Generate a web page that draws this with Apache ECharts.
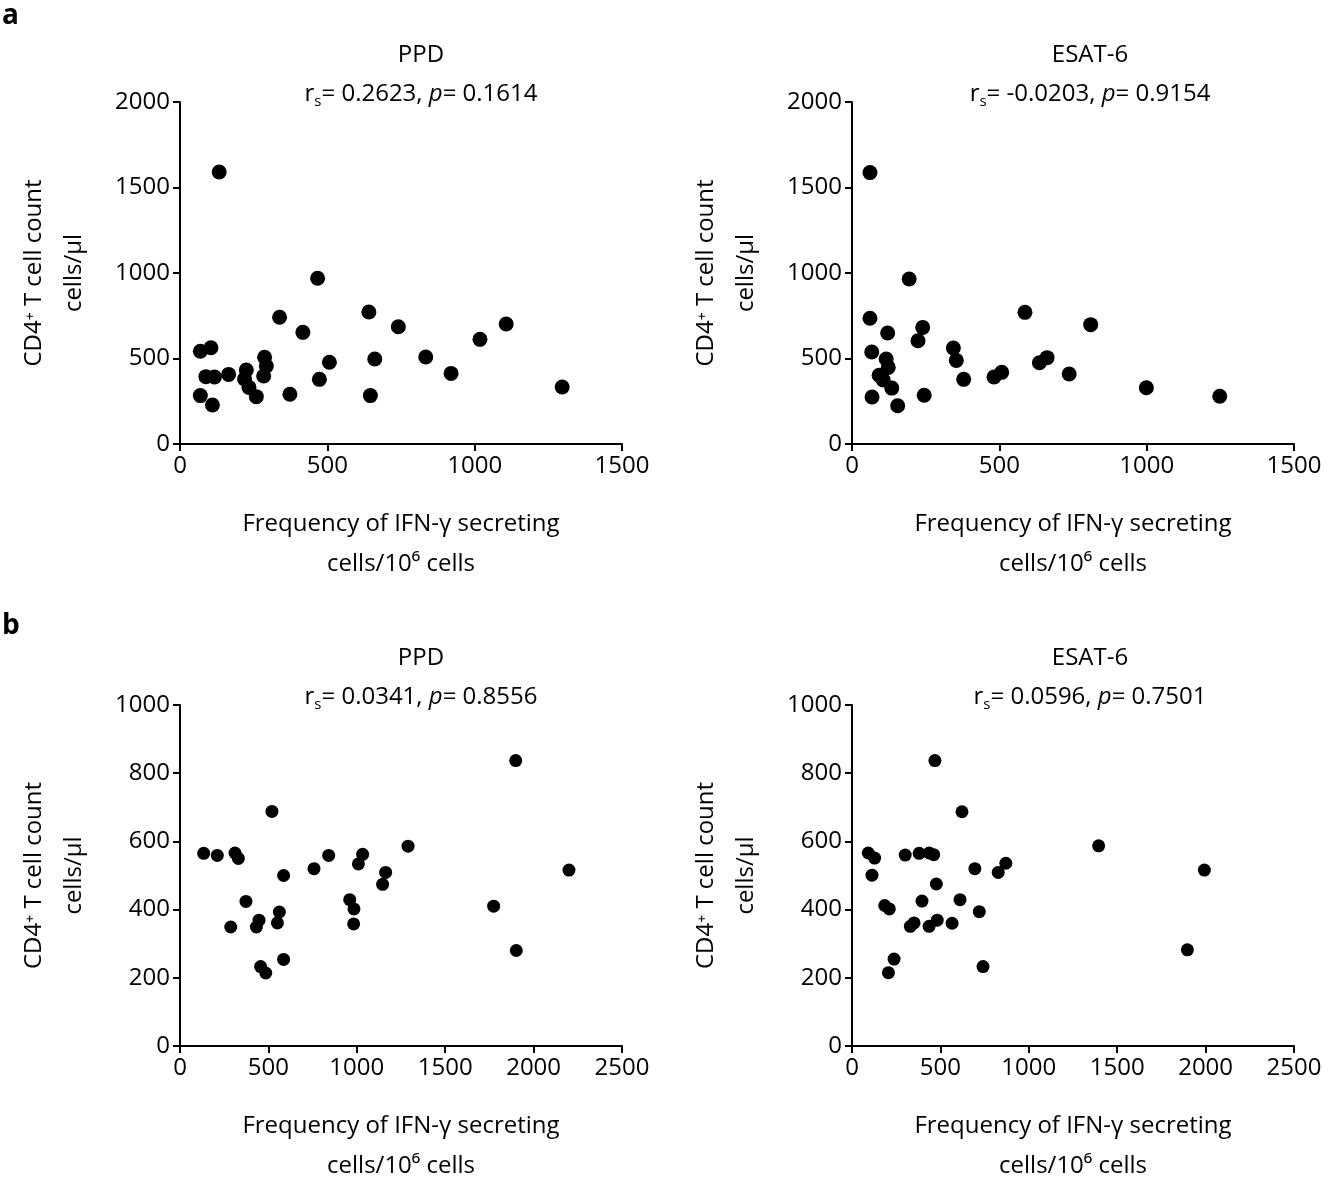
<!DOCTYPE html>
<html><head><meta charset="utf-8">
<script src="https://cdn.jsdelivr.net/npm/echarts@6/dist/echarts.min.js"></script>
<style>html,body{margin:0;padding:0;background:#fff}#c{width:1330px;height:1187px}</style>
</head><body><div id="c"></div>
<script>
const aPPD = [[133,1591],[467,969],[338,741],[417,653],[641,772],[741,686],[1107,702],[1018,612],[69,542],[105,563],[287,507],[293,456],[507,478],[661,497],[834,509],[920,413],[88,394],[117,392],[165,407],[225,433],[219,380],[234,331],[284,398],[473,378],[1297,333],[69,283],[110,228],[259,277],[373,291],[646,283]];
const aESAT = [[61,1587],[194,965],[61,735],[121,649],[240,682],[224,604],[587,770],[810,698],[67,538],[116,497],[123,448],[344,561],[354,489],[92,402],[106,374],[135,327],[379,378],[482,392],[508,419],[636,475],[662,505],[737,409],[999,329],[1248,279],[68,275],[155,224],[245,285]];
const bPPD = [[520,688],[1899,837],[1290,586],[134,565],[211,559],[311,566],[330,550],[841,559],[1033,562],[1009,534],[758,520],[2200,516],[586,500],[1163,509],[1146,474],[373,424],[960,429],[984,402],[1774,410],[562,393],[551,361],[447,369],[432,349],[287,349],[982,358],[586,254],[1902,280],[456,233],[485,214]];
const bESAT = [[469,837],[622,687],[1395,587],[92,566],[128,551],[301,560],[380,565],[437,566],[462,561],[113,501],[695,520],[870,536],[827,509],[1993,516],[477,475],[396,425],[611,429],[185,412],[211,402],[720,394],[482,369],[351,361],[330,351],[436,351],[566,360],[1897,282],[238,255],[206,215],[741,233]];
const titles = [
 ['PPD','0.2623','0.1614'],['ESAT-6','-0.0203','0.9154'],
 ['PPD','0.0341','0.8556'],['ESAT-6','0.0596','0.7501']];
const FONT = 'Open Sans';
const grids = [
 {left:180,width:442,top:102,height:342},{left:852,width:442,top:102,height:342},
 {left:180,width:442,top:705,height:343},{left:852,width:442,top:705,height:343}];
const xMax=[1500,1500,2500,2500], xInt=[500,500,500,500];
const yMax=[2000,2000,1000,1000], yInt=[500,500,200,200];
const data=[aPPD,aESAT,bPPD,bESAT];
const sym=[15,15,13,13];
const axisCommon = {axisLine:{lineStyle:{color:'#000',width:2}},axisTick:{length:7,lineStyle:{color:'#000',width:2}},splitLine:{show:false},
  axisLabel:{color:'#000',fontSize:24,fontFamily:FONT,margin:10,formatter:v=>String(v)},nameTextStyle:{color:'#000',fontSize:24,fontFamily:FONT,lineHeight:40}};
const tcx=[421,1090,421,1090];
const option = {animation:false,
 grid:grids,
 xAxis:grids.map((g,i)=>Object.assign({},axisCommon,{gridIndex:i,type:'value',min:0,max:xMax[i],interval:xInt[i],
   name:'Frequency of IFN-γ secreting\ncells/10⁶ cells',nameLocation:'middle',nameGap:60})),
 yAxis:grids.map((g,i)=>Object.assign({},axisCommon,{gridIndex:i,type:'value',min:0,max:yMax[i],interval:yInt[i],
   name:'CD4⁺ T cell count\ncells/μl',nameLocation:'middle',nameGap:86})),
 series:data.map((d,i)=>({type:'scatter',xAxisIndex:i,yAxisIndex:i,data:d,symbol:'circle',symbolSize:sym[i],itemStyle:{color:'#000',opacity:1}})),
 graphic:[
  {type:'text',x:2,y:2,style:{text:'a',font:'bold 28px '+FONT,fill:'#000'}},
  {type:'text',x:2,y:612,style:{text:'b',font:'bold 28px '+FONT,fill:'#000'}},
  ...titles.flatMap((t,i)=>{const ty=grids[i].top;
   return [
    {type:'text',x:tcx[i],y:ty-59,style:{text:t[0],font:'24px '+FONT,fill:'#000',align:'center'}},
    {type:'text',x:tcx[i],y:ty-20,style:{text:'{n|r}{s|s}{n|= '+t[1]+', }{i|p}{n|= '+t[2]+'}',align:'center',fill:'#000',
      rich:{n:{fontSize:24,fontFamily:FONT,color:'#000',verticalAlign:'top',lineHeight:30},
            i:{fontSize:24,fontFamily:FONT,fontStyle:'italic',color:'#000',verticalAlign:'top',lineHeight:30},
            s:{fontSize:15,fontFamily:FONT,color:'#000',verticalAlign:'top',padding:[12,0,0,0],lineHeight:30}}}}];})
 ]};
echarts.init(document.getElementById('c')).setOption(option);
</script></body></html>
